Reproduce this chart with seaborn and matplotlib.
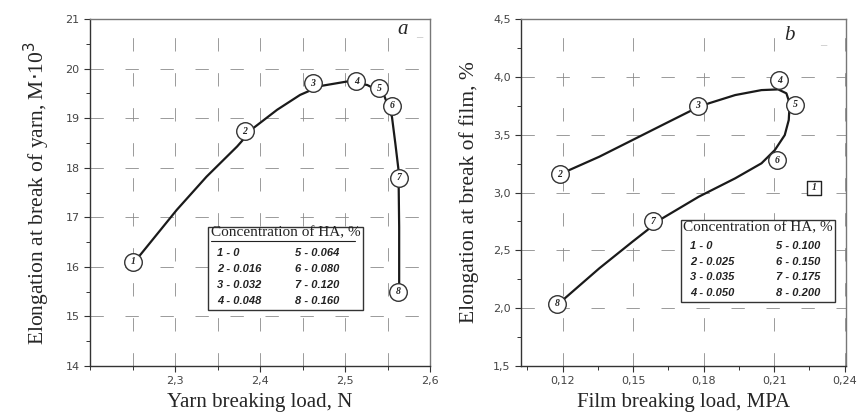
import matplotlib
matplotlib.use('Agg')
import matplotlib.pyplot as plt
import seaborn as sns
from matplotlib.ticker import MultipleLocator
from matplotlib.patches import Rectangle

# ---- datos panel a (hilo) ----
yarn_curve_x = [2.251, 2.259, 2.302, 2.337, 2.373, 2.392, 2.420, 2.447, 2.471, 2.502, 2.526,
                2.545, 2.555, 2.559, 2.5627, 2.5635, 2.5635]
yarn_curve_y = [16.10, 16.24, 17.15, 17.82, 18.43, 18.80, 19.17, 19.47, 19.65, 19.74, 19.67,
                19.50, 19.03, 18.49, 17.96, 16.80, 15.55]
yarn_pts_x = [2.251, 2.382, 2.462, 2.513, 2.540, 2.555, 2.563, 2.562]
yarn_pts_y = [16.10, 18.74, 19.71, 19.75, 19.60, 19.25, 17.80, 15.50]
yarn_pts_lab = ['1', '2', '3', '4', '5', '6', '7', '8']
yarn_conc = ['1 - 0', '2 - 0.016', '3 - 0.032', '4 - 0.048',
             '5 - 0.064', '6 - 0.080', '7 - 0.120', '8 - 0.160']
yarn_xticks = [2.3, 2.4, 2.5, 2.6]
yarn_xlabels = ['2,3', '2,4', '2,5', '2,6']
yarn_yticks = [14, 15, 16, 17, 18, 19, 20, 21]
yarn_ylabels = ['14', '15', '16', '17', '18', '19', '20', '21']

# ---- datos panel b (película) ----
film_curve_x = [0.1222, 0.1356, 0.1497, 0.1638, 0.1751, 0.1821, 0.1934, 0.2046, 0.2117, 0.2152,
                0.2166, 0.2162, 0.2145, 0.2103, 0.2046, 0.1934, 0.1779, 0.1624, 0.1497, 0.1356,
                0.1201]
film_curve_y = [3.189, 3.310, 3.454, 3.598, 3.713, 3.771, 3.843, 3.886, 3.892, 3.858,
                3.771, 3.627, 3.497, 3.368, 3.253, 3.123, 2.964, 2.777, 2.575, 2.345,
                2.071]
film_pts_x = [0.1187, 0.1775, 0.2121, 0.2188, 0.2113, 0.1585, 0.1175]
film_pts_y = [3.16, 3.75, 3.97, 3.76, 3.28, 2.75, 2.04]
film_pts_lab = ['2', '3', '4', '5', '6', '7', '8']
film_sq_x = [0.227]
film_sq_y = [3.04]
film_conc = ['1 - 0', '2 - 0.025', '3 - 0.035', '4 - 0.050',
             '5 - 0.100', '6 - 0.150', '7 - 0.175', '8 - 0.200']
film_xticks = [0.12, 0.15, 0.18, 0.21, 0.24]
film_xlabels = ['0,12', '0,15', '0,18', '0,21', '0,24']
film_yticks = [1.5, 2.0, 2.5, 3.0, 3.5, 4.0, 4.5]
film_ylabels = ['1,5', '2,0', '2,5', '3,0', '3,5', '4,0', '4,5']

sns.set_style('white')
plt.rcParams['font.family'] = ['DejaVu Sans']

fig = plt.figure(figsize=(8.57, 4.15), dpi=100)
ax1 = fig.add_axes([0.105, 0.118, 0.397, 0.836])
ax2 = fig.add_axes([0.608, 0.118, 0.379, 0.836])

serif = 'Liberation Serif'
grid_kw = dict(color='#8a8a8a', linestyle=(0, (16, 26)), linewidth=0.6)


def style_axes(ax, xt, xl, yt, yl, xminor, yminor):
    ax.set_xticks(xt)
    ax.set_xticklabels(xl)
    ax.set_yticks(yt)
    ax.set_yticklabels(yl)
    ax.xaxis.set_minor_locator(MultipleLocator(xminor))
    ax.yaxis.set_minor_locator(MultipleLocator(yminor))
    ax.tick_params(which='major', direction='out', length=4, width=0.8, color='#333333',
                   labelsize=8, labelcolor='#444444', left=True, bottom=True)
    ax.tick_params(which='minor', direction='out', length=3, width=0.7, color='#333333',
                   left=True, bottom=True)
    for s in ax.spines.values():
        s.set_color('#333333')
        s.set_linewidth(1.0)
    ax.spines['top'].set_color('#777777')
    ax.spines['right'].set_color('#777777')


def draw_points(ax, xs, ys, labs):
    sns.scatterplot(x=xs, y=ys, ax=ax, s=160, color='white', edgecolor='#333333',
                    linewidth=1.0, zorder=4, legend=False)
    for x, y, t in zip(xs, ys, labs):
        ax.text(x, y, t, ha='center', va='center', fontsize=7, fontweight='bold',
                fontstyle='italic', family=serif, zorder=5)


def draw_table(ax, x0, y0, x1, y1, entries, head_y, rows_y, col_x, underline):
    ax.add_patch(Rectangle((x0, y0), x1 - x0, y1 - y0, transform=ax.transAxes,
                           facecolor='white', edgecolor='#333333', linewidth=1.0, zorder=6))
    ax.text((x0 + x1) / 2, head_y, 'Concentration of HA, %', transform=ax.transAxes,
            ha='center', va='center', fontsize=11, family=serif, color='#222222', zorder=7)
    if underline:
        ax.plot([x0 + 0.01, x1 - 0.025], [head_y - 0.022, head_y - 0.022], transform=ax.transAxes,
                color='#222222', lw=0.8, zorder=7)
    for i, e in enumerate(entries):
        ax.text(col_x[i // 4], rows_y[i % 4], e, transform=ax.transAxes, ha='left', va='center',
                fontsize=8, fontweight='bold', fontstyle='italic', family='Liberation Sans',
                color='#222222', zorder=7)


# ---- panel a ----
ax1.set_xlim(2.2, 2.6)
ax1.set_ylim(14, 21)
style_axes(ax1, yarn_xticks, yarn_xlabels, yarn_yticks, yarn_ylabels, 0.05, 0.5)
ax1.set_axisbelow(True)
ax1.grid(which='both', axis='x', **grid_kw)
ax1.grid(which='major', axis='y', **grid_kw)
sns.lineplot(x=yarn_curve_x, y=yarn_curve_y, sort=False, ax=ax1, color='#1a1a1a', lw=1.6,
             estimator=None, zorder=3)
draw_points(ax1, yarn_pts_x, yarn_pts_y, yarn_pts_lab)
draw_table(ax1, 0.347, 0.161, 0.803, 0.400, yarn_conc, 0.383,
           [0.326, 0.280, 0.233, 0.187], [0.374, 0.603], True)
ax1.text(2.568, 20.78, 'a', fontsize=15, fontstyle='italic', family=serif, ha='center', va='center')
ax1.text(2.587, 20.72, '_', fontsize=9, color='#bbbbbb', family=serif, ha='center', va='center')
ax1.set_xlabel('Yarn breaking load, N', family=serif, fontsize=15, labelpad=5)
ax1.set_ylabel('Elongation at break of yarn, M$\\cdot$10$^3$', family=serif, fontsize=15.5, labelpad=10)

# ---- panel b ----
ax2.set_xlim(0.1023, 0.2405)
ax2.set_ylim(1.5, 4.5)
style_axes(ax2, film_xticks, film_xlabels, film_yticks, film_ylabels, 0.015, 0.25)
ax2.set_axisbelow(True)
ax2.grid(which='major', axis='both', **grid_kw)
sns.lineplot(x=film_curve_x, y=film_curve_y, sort=False, ax=ax2, color='#1a1a1a', lw=1.6,
             estimator=None, zorder=3)
draw_points(ax2, film_pts_x, film_pts_y, film_pts_lab)
sns.scatterplot(x=film_sq_x, y=film_sq_y, ax=ax2, marker='s', s=110, color='white',
                edgecolor='#222222', linewidth=1.0, zorder=4, legend=False)
ax2.text(film_sq_x[0], film_sq_y[0], '1', ha='center', va='center', fontsize=7,
         fontweight='bold', fontstyle='italic', family=serif, zorder=5)
draw_table(ax2, 0.492, 0.184, 0.966, 0.421, film_conc, 0.398,
           [0.346, 0.300, 0.256, 0.210], [0.52, 0.785], False)
ax2.text(0.2167, 4.36, 'b', fontsize=15, fontstyle='italic', family=serif, ha='center', va='center')
ax2.text(0.231, 4.31, '_', fontsize=9, color='#bbbbbb', family=serif, ha='center', va='center')
ax2.set_xlabel('Film breaking load, MPA', family=serif, fontsize=15, labelpad=5)
ax2.set_ylabel('Elongation at break of film, %', family=serif, fontsize=15.5, labelpad=10)

fig.savefig('out.png', dpi=100)
